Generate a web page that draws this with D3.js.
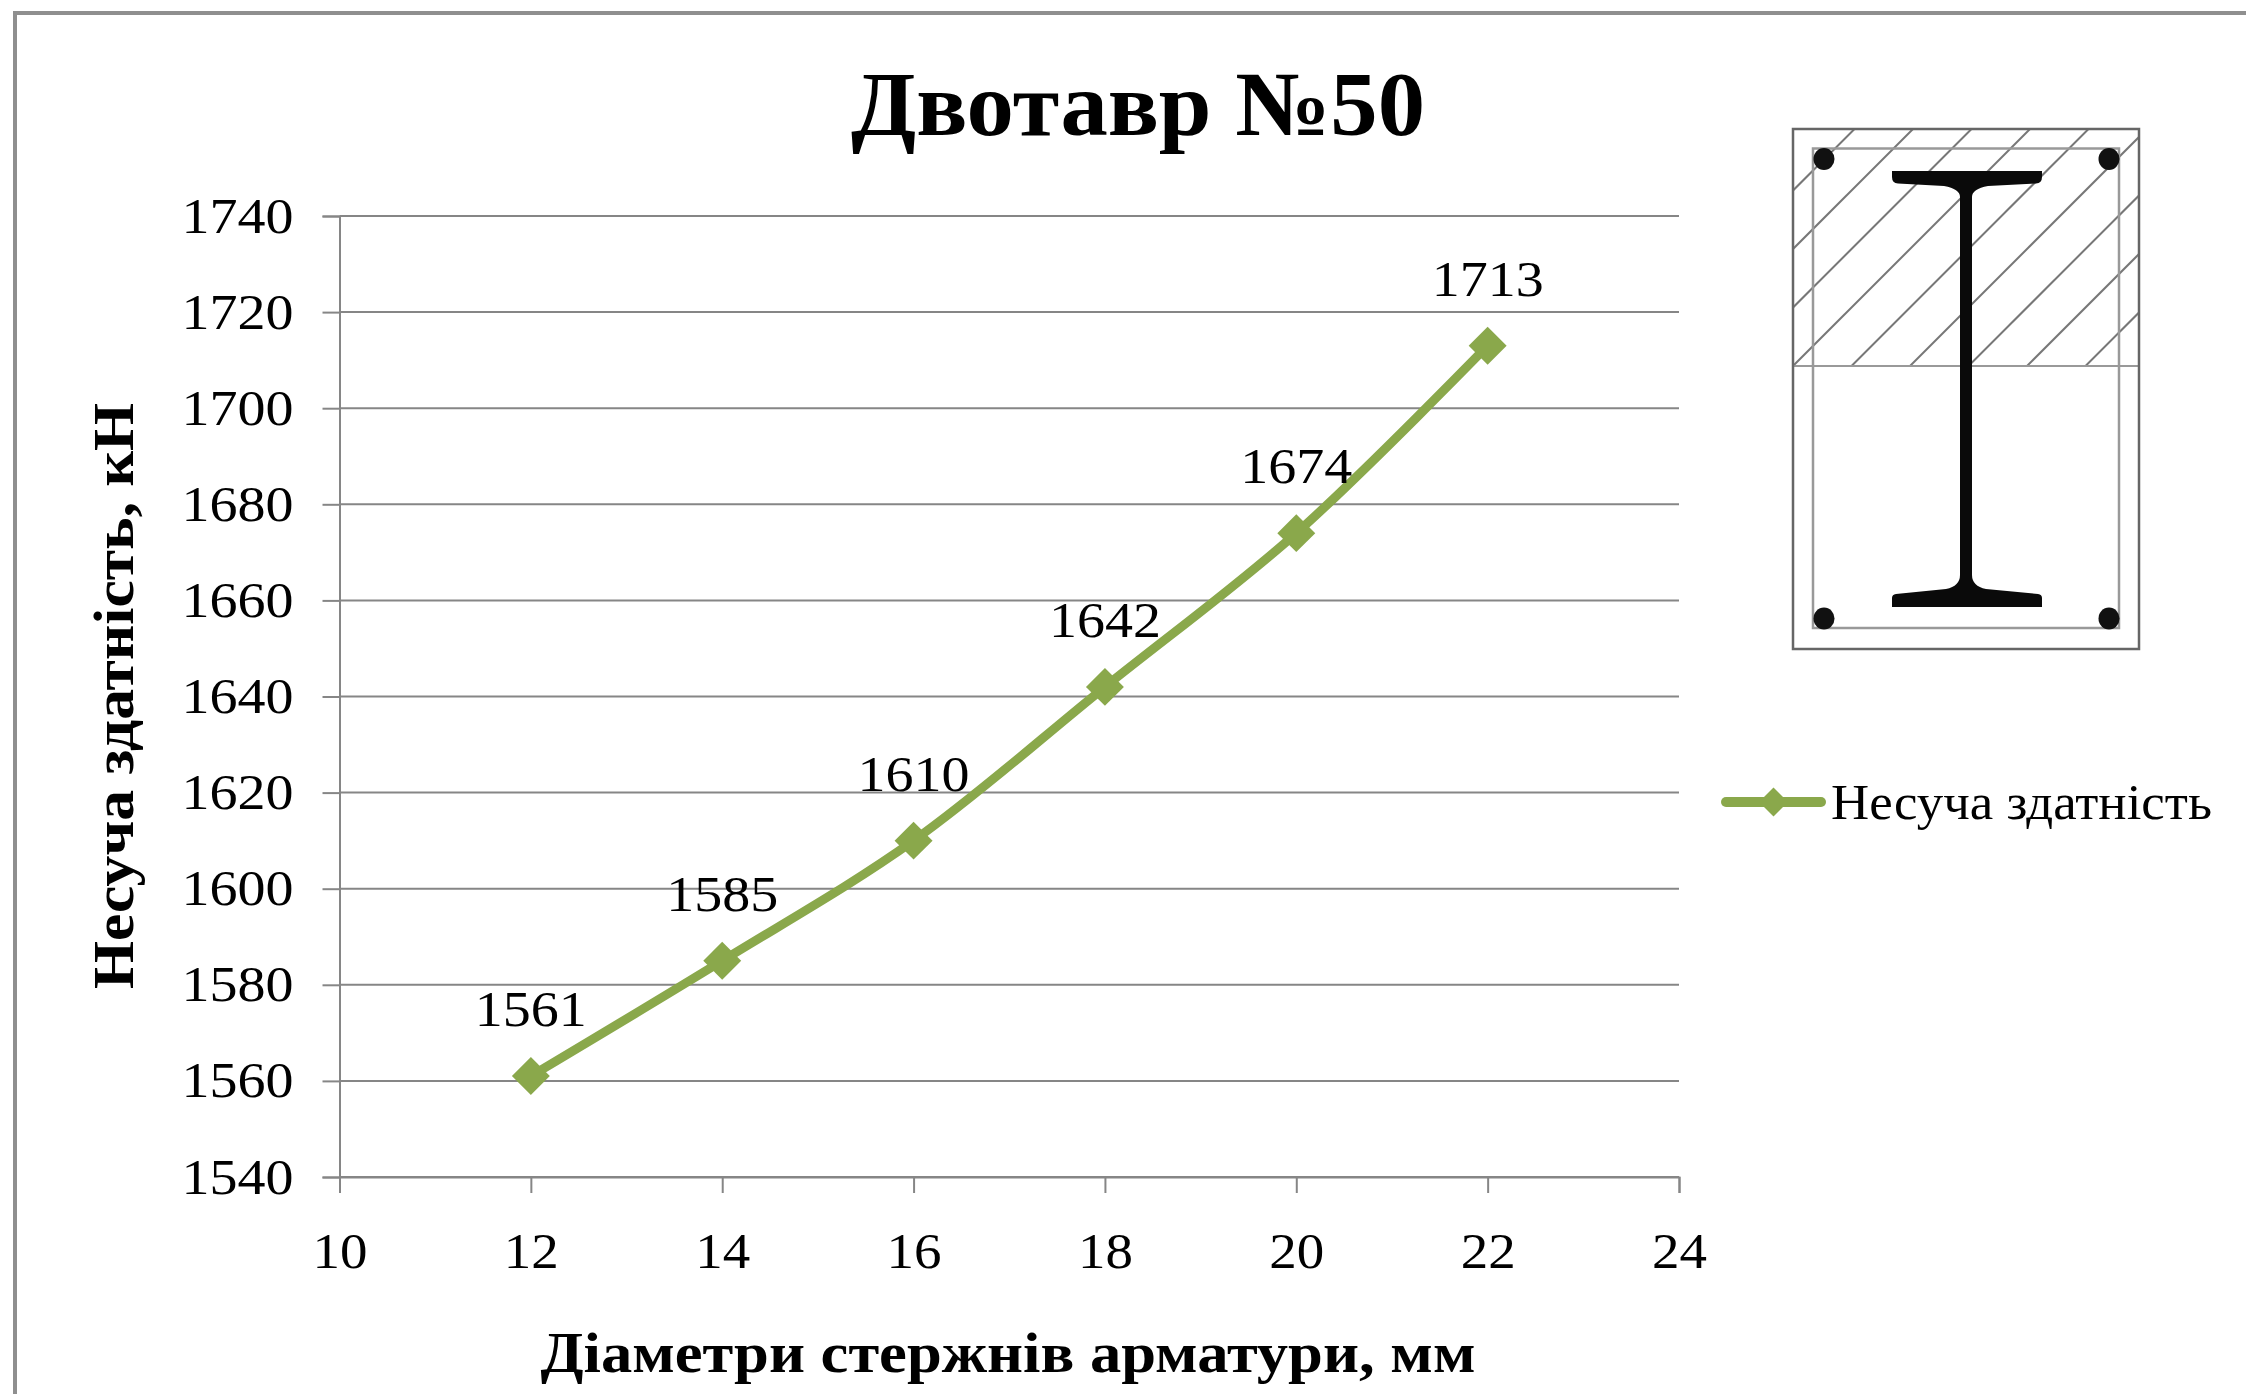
<!DOCTYPE html>
<html lang="uk">
<head>
<meta charset="utf-8">
<script src="https://d3js.org/d3.v7.min.js"></script>
<style>
  html, body { margin: 0; padding: 0; background: #fff; }
  svg { display: block; filter: blur(0.5px); }
  text { font-family: "Liberation Serif", serif; fill: #000; }
</style>
</head>
<body>
<div id="chart"></div>
<script>
// data
const diameters = [12, 14, 16, 18, 20, 22];
const capacity = [1561, 1585, 1610, 1642, 1674, 1713];
const xTicks = [10, 12, 14, 16, 18, 20, 22, 24];
const yTicks = [1540, 1560, 1580, 1600, 1620, 1640, 1660, 1680, 1700, 1720, 1740];
const titleText = "Двотавр №50";
const xTitle = "Діаметри стержнів арматури, мм";
const yTitle = "Несуча здатність, кН";
const seriesName = "Несуча здатність";

const width = 2246, height = 1394;
const green = "#8aa84b", gridColor = "#868686";

const svg = d3.select("#chart").append("svg")
  .attr("width", width)
  .attr("height", height);

// outer frame, only top and left are visible in the picture
svg.append("path")
  .attr("d", "M15,1394V13H2246")
  .attr("fill", "none")
  .attr("stroke", "#8f8f8f")
  .attr("stroke-width", 4);

const x = d3.scaleLinear().domain([10, 24]).range([339.5, 1679]);
const y = d3.scaleLinear().domain([1540, 1740]).range([1177, 216]);

// horizontal grid
svg.append("g").selectAll("line")
  .data(yTicks)
  .join("line")
  .attr("x1", x(10))
  .attr("x2", x(24))
  .attr("y1", d => y(d))
  .attr("y2", d => y(d))
  .attr("stroke", gridColor)
  .attr("stroke-width", 2);

const yAxis = svg.append("g")
  .attr("transform", "translate(" + x(10) + ",0)")
  .call(d3.axisLeft(y).tickValues(yTicks).tickSize(17).tickPadding(29).tickFormat(d3.format("d")));

const xAxis = svg.append("g")
  .attr("transform", "translate(0," + y(1540) + ")")
  .call(d3.axisBottom(x).tickValues(xTicks).tickSize(16).tickFormat(d3.format("d")));

[yAxis, xAxis].forEach(function (a) {
  a.selectAll("path.domain").attr("stroke", gridColor).attr("stroke-width", 2);
  a.selectAll(".tick line").attr("stroke", gridColor).attr("stroke-width", 2);
  a.selectAll("text").style("font-family", "'Liberation Serif', serif").attr("font-size", 50).attr("fill", "#000");
});
yAxis.selectAll("text").attr("textLength", 112).attr("lengthAdjust", "spacingAndGlyphs");
xAxis.selectAll("text").attr("y", 91).attr("dy", 0)
  .attr("textLength", 55).attr("lengthAdjust", "spacingAndGlyphs");

// series
const points = diameters.map((d, i) => [d, capacity[i]]);
const line = d3.line()
  .x(d => x(d[0]))
  .y(d => y(d[1]))
  .curve(d3.curveCatmullRom.alpha(0.5));

svg.append("path")
  .datum(points)
  .attr("d", line)
  .attr("fill", "none")
  .attr("stroke", green)
  .attr("stroke-width", 9)
  .attr("stroke-linecap", "round");

// a square turned 45deg, d3's own diamond is narrower than the one in the picture
const marker = d3.symbol().type(d3.symbolSquare).size(720);

svg.append("g").selectAll("path")
  .data(points)
  .join("path")
  .attr("d", marker())
  .attr("transform", d => "translate(" + x(d[0]) + "," + y(d[1]) + ") rotate(45)")
  .attr("fill", green);

svg.append("g").selectAll("text")
  .data(points)
  .join("text")
  .attr("x", d => x(d[0]))
  .attr("y", d => y(d[1]) - 50)
  .attr("text-anchor", "middle")
  .attr("font-size", 50)
  .attr("textLength", 112)
  .attr("lengthAdjust", "spacingAndGlyphs")
  .text(d => d[1]);

// titles
svg.append("text")
  .attr("x", 1138)
  .attr("y", 135)
  .attr("text-anchor", "middle")
  .attr("font-size", 92)
  .attr("font-weight", "bold")
  .attr("textLength", 574)
  .attr("lengthAdjust", "spacingAndGlyphs")
  .text(titleText);

svg.append("text")
  .attr("x", 1008)
  .attr("y", 1372)
  .attr("text-anchor", "middle")
  .attr("font-size", 58)
  .attr("font-weight", "bold")
  .attr("textLength", 935)
  .attr("lengthAdjust", "spacingAndGlyphs")
  .text(xTitle);

svg.append("text")
  .attr("transform", "translate(133,696) rotate(-90)")
  .attr("text-anchor", "middle")
  .attr("font-size", 58)
  .attr("font-weight", "bold")
  .attr("textLength", 586)
  .attr("lengthAdjust", "spacingAndGlyphs")
  .text(yTitle);

// legend
const legend = svg.append("g");
legend.append("line")
  .attr("x1", 1726).attr("x2", 1821)
  .attr("y1", 802).attr("y2", 802)
  .attr("stroke", green)
  .attr("stroke-width", 10)
  .attr("stroke-linecap", "round");
legend.append("path")
  .attr("d", marker.size(420)())
  .attr("transform", "translate(1773.5,802) rotate(45)")
  .attr("fill", green);
legend.append("text")
  .attr("x", 1831)
  .attr("y", 819)
  .attr("font-size", 50)
  .attr("textLength", 381)
  .attr("lengthAdjust", "spacingAndGlyphs")
  .text(seriesName);

// cross-section sketch in the top right corner
const sketch = svg.append("g");
svg.append("clipPath").attr("id", "hatch-clip")
  .append("rect")
  .attr("x", 1793).attr("y", 129)
  .attr("width", 346).attr("height", 237);

sketch.append("g")
  .attr("clip-path", "url(#hatch-clip)")
  .selectAll("line")
  .data(d3.range(-3, 6))
  .join("line")
  .attr("x1", 1693)
  .attr("y1", d => 2159 + 58.5 * d - 1693)
  .attr("x2", 2239)
  .attr("y2", d => 2159 + 58.5 * d - 2239)
  .attr("stroke", "#777")
  .attr("stroke-width", 2);

sketch.append("line")
  .attr("x1", 1793).attr("x2", 2139)
  .attr("y1", 366).attr("y2", 366)
  .attr("stroke", "#999")
  .attr("stroke-width", 2);

sketch.append("rect")
  .attr("x", 1813).attr("y", 148.5)
  .attr("width", 306).attr("height", 479.5)
  .attr("fill", "none")
  .attr("stroke", "#999")
  .attr("stroke-width", 2.5);

sketch.append("rect")
  .attr("x", 1793).attr("y", 129)
  .attr("width", 346).attr("height", 520)
  .attr("fill", "none")
  .attr("stroke", "#666")
  .attr("stroke-width", 2.5);

sketch.append("path")
  .attr("d", "M1892,171H2042V177Q2042,183 2036,183.5L1988,186Q1972,189 1972,197V575Q1972,586 1986,589L2038,594Q2042,594.5 2042,598V607H1892V598Q1892,594.5 1896,594L1946,589Q1960,586 1960,575V197Q1960,189 1944,186L1898,183.5Q1892,183 1892,177Z")
  .attr("fill", "#0a0a0a");

sketch.selectAll("ellipse")
  .data([[1824, 159], [2109, 159], [1824, 618.5], [2109, 618.5]])
  .join("ellipse")
  .attr("cx", d => d[0])
  .attr("cy", d => d[1])
  .attr("rx", 10.5)
  .attr("ry", 11)
  .attr("fill", "#111");
</script>
</body>
</html>
